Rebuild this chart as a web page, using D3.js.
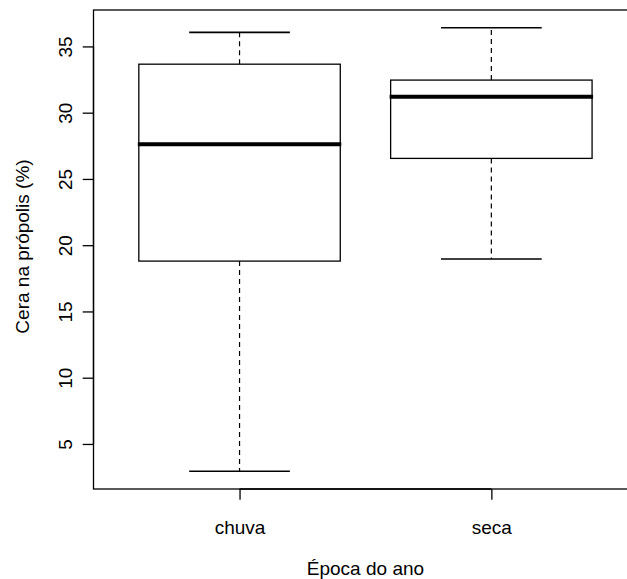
<!DOCTYPE html>
<html>
<head>
<meta charset="utf-8">
<script src="https://cdn.jsdelivr.net/npm/d3@7/dist/d3.min.js"></script>
<style>
  html, body { margin: 0; padding: 0; background: #fff; }
  svg { display: block; }
  text { font-family: "Liberation Sans", Arial, Helvetica, sans-serif; fill: #000; }
</style>
</head>
<body>
<svg id="chart" width="627" height="579"></svg>
<script>
// Wax content of propolis by season of the year
const categories   = ["chuva", "seca"];
const whiskerLow   = [2.94, 18.96];
const quartile1    = [18.80, 26.55];
const medians      = [27.61, 31.21];
const quartile3    = [33.66, 32.46];
const whiskerHigh  = [36.06, 36.41];
const yTicks       = [5, 10, 15, 20, 25, 30, 35];
const xTitle = "Época do ano";
const yTitle = "Cera na própolis (%)";

const svg = d3.select("#chart");
const fontSize = "19px";

// plot region (the frame runs past the right edge of the page)
const plot = { left: 93.5, top: 10, bottom: 489, right: 637.4 };
const lineH = 21.6;   // one margin line
const tick = 10.8;    // tick length

// y: data range widened by 4% on each side
const lo = d3.min(whiskerLow), hi = d3.max(whiskerHigh);
const pad = (hi - lo) * 0.04;
const y = d3.scaleLinear().domain([lo - pad, hi + pad]).range([plot.bottom, plot.top]);

// x: group positions 1..n, widened by 4% beyond [0.5, n+0.5]
const n = categories.length;
const x = d3.scaleLinear()
  .domain([0.5 - 0.04 * n, n + 0.5 + 0.04 * n])
  .range([plot.left, plot.right]);

const boxW = 0.8, capW = 0.4;

const g = svg.append("g");

categories.forEach((c, i) => {
  const pos = i + 1;
  const cx = x(pos);
  const half = (x(pos + boxW / 2) - x(pos - boxW / 2)) / 2;
  const capHalf = (x(pos + capW / 2) - x(pos - capW / 2)) / 2;

  // dashed whiskers
  [[quartile3[i], whiskerHigh[i]], [quartile1[i], whiskerLow[i]]].forEach(([a, b]) => {
    g.append("line")
      .attr("x1", cx).attr("x2", cx)
      .attr("y1", y(a)).attr("y2", y(b))
      .attr("stroke", "#000").attr("stroke-width", 1.2)
      .attr("stroke-dasharray", "5,4");
  });

  // whisker caps
  [whiskerLow[i], whiskerHigh[i]].forEach(v => {
    g.append("line")
      .attr("x1", cx - capHalf).attr("x2", cx + capHalf)
      .attr("y1", y(v)).attr("y2", y(v))
      .attr("stroke", "#000").attr("stroke-width", 1.6);
  });

  // box
  g.append("rect")
    .attr("x", cx - half).attr("y", y(quartile3[i]))
    .attr("width", 2 * half).attr("height", y(quartile1[i]) - y(quartile3[i]))
    .attr("fill", "none").attr("stroke", "#000").attr("stroke-width", 1.3);

  // median
  g.append("line")
    .attr("x1", cx - half - 1).attr("x2", cx + half + 1)
    .attr("y1", y(medians[i])).attr("y2", y(medians[i]))
    .attr("stroke", "#000").attr("stroke-width", 4);
});

// frame
svg.append("rect")
  .attr("x", plot.left).attr("y", plot.top)
  .attr("width", plot.right - plot.left).attr("height", plot.bottom - plot.top)
  .attr("fill", "none").attr("stroke", "#000").attr("stroke-width", 1.3);

// y axis
const yAxis = svg.append("g")
  .attr("transform", `translate(${plot.left},0)`)
  .call(d3.axisLeft(y).tickValues(yTicks).tickSize(tick).tickFormat(d3.format("d")));
yAxis.select(".domain")
  .attr("d", `M0,${y(yTicks[0])}V${y(yTicks[yTicks.length - 1])}`)
  .attr("stroke", "#000").attr("stroke-width", 1.3);
yAxis.selectAll(".tick line").attr("stroke", "#000").attr("stroke-width", 1.3);
yAxis.selectAll(".tick text")
  .attr("transform", "rotate(-90)")
  .attr("x", 0).attr("y", -lineH).attr("dy", null)
  .attr("text-anchor", "middle")
  .style("font-size", fontSize)
  .style("font-family", "'Liberation Sans', Arial, Helvetica, sans-serif");

// x axis
const xAxis = svg.append("g")
  .attr("transform", `translate(0,${plot.bottom})`)
  .call(d3.axisBottom(x).tickValues(categories.map((c, i) => i + 1))
    .tickSize(tick).tickFormat((d) => categories[d - 1]));
xAxis.select(".domain")
  .attr("d", `M${x(1)},0H${x(n)}`)
  .attr("stroke", "#000").attr("stroke-width", 1.3);
xAxis.selectAll(".tick line").attr("stroke", "#000").attr("stroke-width", 1.3);
xAxis.selectAll(".tick text")
  .attr("y", 2 * lineH + 2).attr("dy", null)
  .style("font-size", fontSize)
  .style("font-family", "'Liberation Sans', Arial, Helvetica, sans-serif");

// axis titles
svg.append("text")
  .attr("x", x((1 + n) / 2))
  .attr("y", plot.bottom + 4 * lineH)
  .attr("text-anchor", "middle")
  .style("font-size", fontSize)
  .text(xTitle);

svg.append("text")
  .attr("transform", `translate(${plot.left - 3 * lineH},${(plot.top + plot.bottom) / 2 - 3}) rotate(-90)`)
  .attr("text-anchor", "middle")
  .style("font-size", fontSize)
  .text(yTitle);
</script>
</body>
</html>
